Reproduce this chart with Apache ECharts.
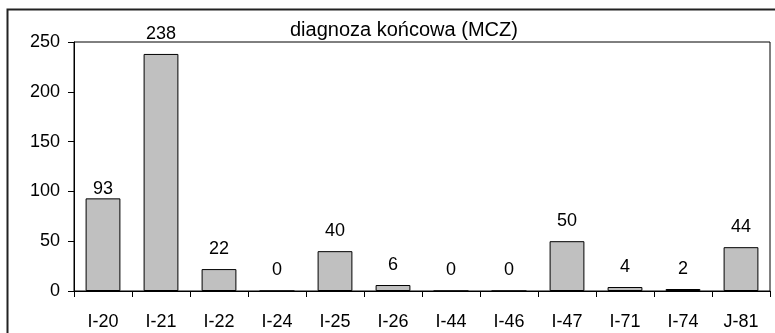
<!DOCTYPE html>
<html>
<head>
<meta charset="utf-8">
<script src="https://cdn.jsdelivr.net/npm/echarts@6/dist/echarts.min.js"></script>
<style>
html,body{margin:0;padding:0;background:#fff;}
#chart{width:775px;height:333px;}
</style>
</head>
<body>
<div id="chart"></div>
<script>
const titleText = 'diagnoza końcowa (MCZ)';
const categories = ['I-20','I-21','I-22','I-24','I-25','I-26','I-44','I-46','I-47','I-71','I-74','J-81'];
const values = [93, 238, 22, 0, 40, 6, 0, 0, 50, 4, 2, 44];
const yTicks = [0, 50, 100, 150, 200, 250];

const FONT = 'Liberation Sans, Arial, sans-serif';
const chart = echarts.init(document.getElementById('chart'), null, {renderer: 'canvas'});

const seriesData = values.map((v, i) => {
  const item = {value: v};
  if (i === 0) item.label = {distance: 0};
  return item;
});

chart.setOption({
  animation: false,
  backgroundColor: '#fff',
  title: {
    text: titleText,
    left: 285,
    top: 15,
    textStyle: {fontFamily: FONT, fontSize: 20, fontWeight: 'normal', color: '#000'}
  },
  grid: {
    left: 74, top: 42, right: 5, bottom: 42,
    show: true, borderColor: '#000', borderWidth: 1, backgroundColor: 'transparent'
  },
  xAxis: {
    type: 'category',
    data: categories,
    boundaryGap: true,
    axisLine: {lineStyle: {color: '#000', width: 1}},
    axisTick: {show: true, length: 6, lineStyle: {color: '#000'}, alignWithLabel: false},
    axisLabel: {fontFamily: FONT, fontSize: 18, color: '#000', margin: 22, interval: 0}
  },
  yAxis: {
    type: 'value',
    min: yTicks[0],
    max: yTicks[yTicks.length - 1],
    interval: yTicks[1] - yTicks[0],
    axisLine: {show: true, lineStyle: {color: '#000', width: 1}},
    axisTick: {show: true, length: 6, lineStyle: {color: '#000'}},
    splitLine: {show: false},
    axisLabel: {fontFamily: FONT, fontSize: 18, color: '#000', margin: 14}
  },
  series: [{
    type: 'bar',
    data: seriesData,
    barWidth: '60%',
    itemStyle: {color: '#c0c0c0', borderColor: '#000', borderWidth: 1},
    label: {
      show: true, position: 'top', distance: 11,
      fontFamily: FONT, fontSize: 18, color: '#000'
    }
  }],
  graphic: [{
    type: 'rect',
    shape: {x: 7.5, y: 9.5, width: 800, height: 400},
    style: {fill: 'none', stroke: '#222', lineWidth: 2},
    silent: true
  }]
});
</script>
</body>
</html>
